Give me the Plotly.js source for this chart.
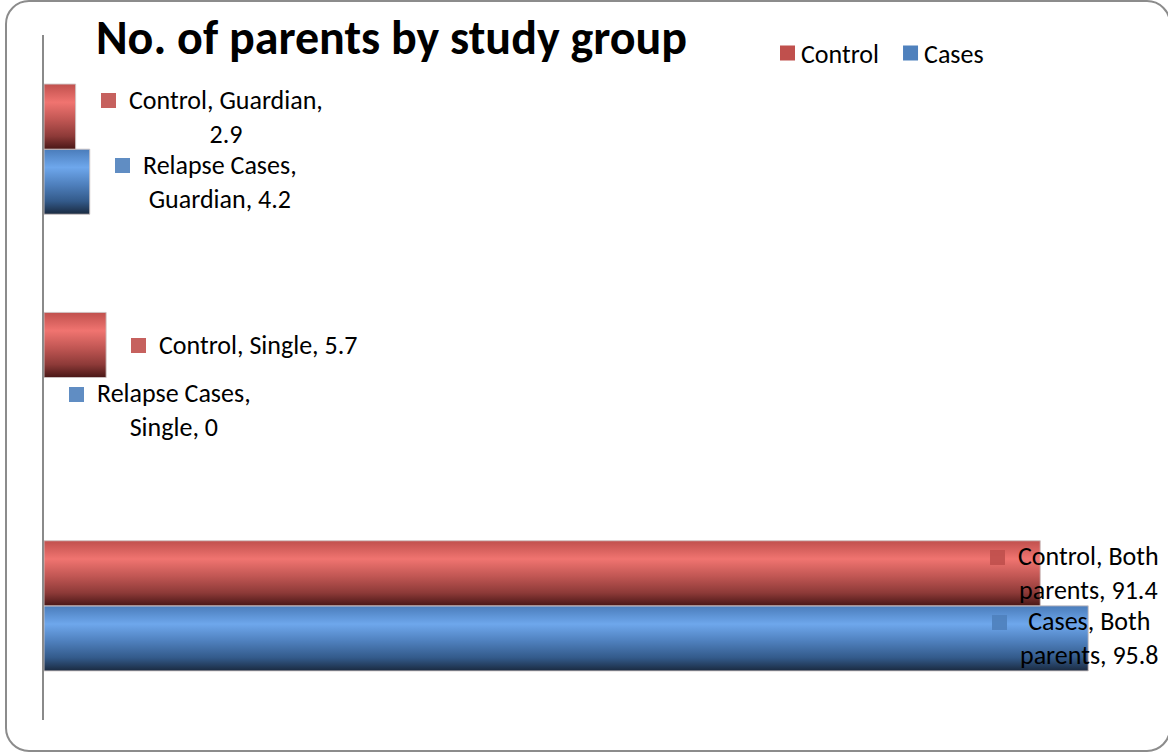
<!DOCTYPE html>
<html>
<head>
<meta charset="utf-8">
<script src="https://cdn.plot.ly/plotly-3.0.1.min.js"></script>
<style>
  html, body { margin: 0; padding: 0; background: #ffffff; }
  #wrap { position: relative; width: 1168px; height: 753px; overflow: hidden; }
  #chart { position: absolute; left: 0; top: 0; width: 1168px; height: 753px; }
  #frame { position: absolute; left: 5px; top: 0px; width: 1166px; height: 752px;
           box-sizing: border-box; border: 2px solid #8c8c8c; border-radius: 24px;
           pointer-events: none; }
</style>
</head>
<body>
<div id="wrap">
  <div id="chart"></div>
  <div id="frame"></div>
</div>
<script>
// ---- data ----
const categories = ["Both parents", "Single", "Guardian"];
const seriesNames = ["Cases", "Control"];
const casesValues = [95.8, 0, 4.2];
const controlValues = [91.4, 5.7, 2.9];
const casesLabelFmt = ["Cases, Both<br>parents, {v}", "Relapse Cases,<br>Single, {v}", "Relapse Cases,<br>Guardian, {v}"];
const controlLabelFmt = ["Control, Both<br>parents, {v}", "Control, Single, {v}", "Control, Guardian,<br>{v}"];
const chartTitle = "No. of parents by study group";

// ---- styles ----
const FONT = "Carlito, Calibri, Lato, 'Open Sans', sans-serif";
const solid = { Cases: "#4f81bd", Control: "#c0504d" };
const gradStops = {
  Cases: [[0, "#4a7cba"], [0.28, "#6ea7ec"], [0.55, "#4e7fbc"], [0.8, "#335a8a"], [1, "#1a2a40"]],
  Control: [[0, "#c0504d"], [0.28, "#f07470"], [0.55, "#c05653"], [0.8, "#8d3a38"], [1, "#491716"]]
};
// label offsets in pixels relative to bar end: [squareShift, textShift]
const labelShift = {
  Cases: [[-96, -70], [25, 51], [25, 51]],
  Control: [[-50, -24], [25, 51], [25, 51]]
};
const groupShift = { Cases: -32.5, Control: 32.5 };

const allValues = { Cases: casesValues, Control: controlValues };
const fmts = { Cases: casesLabelFmt, Control: controlLabelFmt };

const traces = seriesNames.map(name => ({
  type: "bar",
  orientation: "h",
  name: name,
  y: categories,
  x: allValues[name],
  marker: { color: solid[name], line: { color: "rgba(205,195,195,0.9)", width: 1 } },
  hoverinfo: "x+y+name"
}));

const annotations = [];
seriesNames.forEach(name => {
  categories.forEach((cat, i) => {
    const v = allValues[name][i];
    const txt = fmts[name][i].replace("{v}", String(v));
    const twoLine = txt.indexOf("<br>") >= 0;
    const [sq, tx] = labelShift[name][i];
    annotations.push({
      xref: "x", yref: "y", x: v, y: cat,
      xanchor: "left", yanchor: "middle",
      xshift: tx, yshift: groupShift[name],
      text: txt, align: "center", showarrow: false,
      font: { family: FONT, size: 26, color: "#000000" }
    });
    annotations.push({
      xref: "x", yref: "y", x: v, y: cat,
      xanchor: "left", yanchor: "middle",
      xshift: sq, yshift: groupShift[name] + (twoLine ? 16 : 0),
      text: "\u00a0", showarrow: false, width: 15, height: 15,
      bgcolor: solid[name], borderpad: 0, borderwidth: 0,
      opacity: 0.9,
      font: { size: 6 }
    });
  });
});

const layout = {
  width: 1168, height: 753,
  margin: { l: 44, r: 34, t: 35, b: 33 },
  paper_bgcolor: "rgba(0,0,0,0)",
  plot_bgcolor: "rgba(0,0,0,0)",
  font: { family: FONT, size: 26, color: "#000000" },
  title: {
    text: "<b>" + chartTitle + "</b>",
    font: { family: FONT, size: 48, color: "#000000" },
    xref: "container", yref: "container",
    x: 96 / 1168, xanchor: "left",
    y: 1 - 37 / 753, yanchor: "middle"
  },
  barmode: "group",
  bargap: 0.43,
  bargroupgap: 0,
  xaxis: { range: [0, 100], visible: false, fixedrange: true },
  yaxis: {
    type: "category", range: [-0.5, 2.5],
    showline: true, linecolor: "#8a8a8a", linewidth: 2,
    showticklabels: false, ticks: "", showgrid: false, zeroline: false, fixedrange: true
  },
  showlegend: true,
  legend: {
    orientation: "h", traceorder: "reversed",
    x: (761 - 44) / 1090, xanchor: "left",
    y: 1 - (53 - 35) / 685, yanchor: "middle",
    font: { family: FONT, size: 26, color: "#000000" },
    bgcolor: "rgba(0,0,0,0)", itemwidth: 30
  },
  annotations: annotations
};

const gd = document.getElementById("chart");
const SVGNS = "http://www.w3.org/2000/svg";
function applyGradients() {
  const svg = gd.querySelector(".main-svg");
  if (!svg) return;
  let defs = svg.querySelector("defs#bar-grads");
  if (!defs) {
    defs = document.createElementNS(SVGNS, "defs");
    defs.setAttribute("id", "bar-grads");
    seriesNames.forEach((name, idx) => {
      const lg = document.createElementNS(SVGNS, "linearGradient");
      lg.setAttribute("id", "grad" + idx);
      lg.setAttribute("x1", "0"); lg.setAttribute("y1", "0");
      lg.setAttribute("x2", "0"); lg.setAttribute("y2", "1");
      gradStops[name].forEach(([o, c]) => {
        const st = document.createElementNS(SVGNS, "stop");
        st.setAttribute("offset", o);
        st.setAttribute("stop-color", c);
        lg.appendChild(st);
      });
      defs.appendChild(lg);
    });
    svg.insertBefore(defs, svg.firstChild);
  }
  gd.querySelectorAll(".barlayer .trace").forEach((t, i) => {
    t.querySelectorAll("path").forEach(p => {
      p.style.fill = "url(#grad" + i + ")";
      if (p.getBBox && p.getBBox().width < 1) p.style.strokeOpacity = 0;
    });
  });
  // legend keys: solid squares, slightly larger, closer to the text
  gd.querySelectorAll(".legend .legendpoints path").forEach(p => {
    if (p.dataset.origTransform === undefined) {
      p.dataset.origTransform = p.getAttribute("transform") || "";
    }
    p.setAttribute("transform", p.dataset.origTransform + " translate(6.5,0) scale(1.25)");
    p.style.strokeWidth = "0";
  });
}
Plotly.newPlot(gd, traces, layout, { displayModeBar: false, staticPlot: true }).then(() => {
  applyGradients();
  gd.on && gd.on("plotly_afterplot", applyGradients);
});
</script>
</body>
</html>
